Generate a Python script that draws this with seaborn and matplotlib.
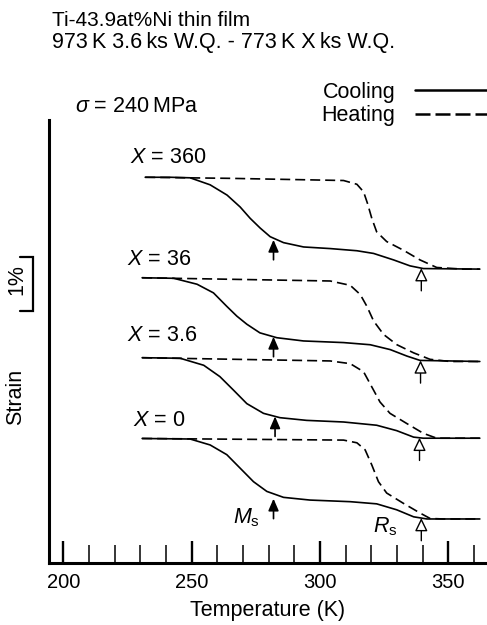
"""Strain-temperature curves of a Ti-43.9at%Ni thin film for several ageing times X."""
import matplotlib
matplotlib.use("Agg")
import matplotlib.pyplot as plt
from matplotlib.lines import Line2D
from matplotlib.patches import ArrowStyle
from matplotlib.ticker import MultipleLocator
import numpy as np
import pandas as pd
import seaborn as sns

# ageing times (ks) and vertical offset (%) of each curve's low end
AGE_LABELS = ["360", "36", "3.6", "0"]
OFFSETS = [5.44, 3.73, 2.31, 0.815]

# cooling curves: temperature (K) and strain (%) relative to the low end
COOL_T = [
    [231.9, 241.7, 249.4, 257.2, 263.8, 268.9, 272.8, 276.7, 280.6, 285.8, 293.6, 304.0, 314.4, 320.9, 328.7, 335.1, 340.3, 362.3],
    [230.7, 243.0, 252.1, 258.5, 263.7, 267.6, 271.5, 276.6, 283.2, 293.6, 309.2, 319.6, 327.4, 333.9, 339.0, 362.3],
    [230.7, 245.5, 254.7, 261.0, 266.3, 271.5, 278.0, 284.4, 294.8, 309.2, 322.1, 329.9, 336.5, 340.3, 362.3],
    [230.7, 249.4, 257.2, 263.7, 268.9, 274.1, 279.3, 285.8, 296.1, 311.8, 322.1, 329.9, 336.5, 341.7, 362.3],
]
COOL_S = [
    [1.70, 1.70, 1.69, 1.56, 1.37, 1.15, 0.94, 0.76, 0.60, 0.49, 0.41, 0.38, 0.34, 0.29, 0.17, 0.06, 0.01, 0.0],
    [1.55, 1.54, 1.43, 1.27, 1.02, 0.84, 0.69, 0.53, 0.44, 0.38, 0.35, 0.31, 0.22, 0.10, 0.02, 0.0],
    [1.49, 1.48, 1.35, 1.14, 0.89, 0.64, 0.46, 0.38, 0.33, 0.30, 0.24, 0.14, 0.02, 0.0, 0.0],
    [1.49, 1.48, 1.37, 1.19, 0.94, 0.69, 0.51, 0.40, 0.35, 0.32, 0.28, 0.17, 0.04, 0.0, 0.0],
]

# heating curves
HEAT_T = [
    [231.9, 265.0, 309.2, 314.4, 317.0, 318.5, 320.2, 322.1, 326.0, 332.5, 339.0, 345.5, 355.8, 362.3],
    [230.7, 304.0, 311.8, 315.7, 318.3, 320.9, 324.8, 330.0, 336.5, 342.9, 350.7, 362.3],
    [230.7, 304.0, 311.8, 317.0, 320.2, 323.4, 327.3, 333.9, 340.3, 345.5, 362.3],
    [230.7, 309.2, 314.4, 317.6, 320.2, 322.8, 326.0, 332.5, 339.0, 342.9, 348.0, 362.3],
]
HEAT_S = [
    [1.70, 1.68, 1.64, 1.57, 1.43, 1.22, 0.94, 0.69, 0.51, 0.35, 0.17, 0.03, 0.0, 0.0],
    [1.55, 1.49, 1.41, 1.24, 1.02, 0.75, 0.50, 0.31, 0.16, 0.04, 0.0, 0.0],
    [1.49, 1.43, 1.38, 1.23, 0.95, 0.67, 0.46, 0.27, 0.09, 0.0, 0.0],
    [1.49, 1.46, 1.41, 1.28, 1.00, 0.69, 0.48, 0.29, 0.11, 0.01, 0.0, 0.0],
]

# transformation start temperatures marked by arrows
MS_T = [281.9, 281.9, 282.5, 281.9]
MS_GAP = [0.03, 0.0, 0.0, 0.09]
RS_T = [339.5, 339.2, 338.8, 339.5]

rows = []
for label, off, ct, cs, ht, hs in zip(AGE_LABELS, OFFSETS, COOL_T, COOL_S, HEAT_T, HEAT_S):
    for i, (t, s) in enumerate(zip(ct, cs)):
        rows.append({"curve": label, "mode": "Cooling", "i": i, "T": t, "strain": s + off})
    for i, (t, s) in enumerate(zip(ht, hs)):
        rows.append({"curve": label, "mode": "Heating", "i": i, "T": t, "strain": s + off})
df = pd.DataFrame(rows)

sns.set_theme(style="white")
plt.rcParams["font.family"] = ["Liberation Sans", "DejaVu Sans"]
plt.rcParams["mathtext.fontset"] = "custom"
plt.rcParams["mathtext.rm"] = "Liberation Sans"
plt.rcParams["mathtext.it"] = "Liberation Sans:italic"
plt.rcParams["text.color"] = "black"
plt.rcParams["axes.labelcolor"] = "black"
plt.rcParams["xtick.color"] = "black"
FS = 15.5

fig = plt.figure(figsize=(4.87, 6.25), dpi=100, facecolor="white")
ax = fig.add_axes([0.1006, 0.0992, 0.8994, 0.7088])

sns.lineplot(
    data=df, x="T", y="strain", units="curve", style="mode",
    estimator=None, sort=False, color="black", lw=1.2,
    dashes={"Cooling": "", "Heating": (6, 3)}, legend=False, ax=ax,
)

ax.set_xlim(194.4, 365.1)
ax.set_ylim(0, 8.2)
for sp in ["top", "right"]:
    ax.spines[sp].set_visible(False)
for sp in ["left", "bottom"]:
    ax.spines[sp].set_linewidth(2.2)
    ax.spines[sp].set_color("black")
ax.set_yticks([])
ax.set_xticks([200, 250, 300, 350])
ax.xaxis.set_minor_locator(MultipleLocator(10))
ax.tick_params(axis="x", which="both", bottom=True, direction="in", colors="black")
ax.tick_params(axis="x", which="major", length=15.8, width=1.7, pad=7, labelsize=14.5)
ax.tick_params(axis="x", which="minor", length=13, width=1.1)
ax.set_xlabel("Temperature (K)", fontsize=FS, labelpad=6)
ax.set_ylabel("")

# arrows at Ms (filled) and Rs (open)
ms_style = ArrowStyle("-|>", head_length=0.6, head_width=0.26)
rs_style = ArrowStyle("-|>", head_length=0.66, head_width=0.32)
for off, ct, cs, ms, gap, rs in zip(OFFSETS, COOL_T, COOL_S, MS_T, MS_GAP, RS_T):
    tip = np.interp(ms, ct, cs) + off - gap
    ax.annotate("", xy=(ms, tip), xytext=(ms, tip - 0.37),
                arrowprops=dict(arrowstyle=ms_style, fc="black", ec="black", lw=1.2,
                                mutation_scale=12, shrinkA=0, shrinkB=0))
    tip = np.interp(rs, ct, cs) + off
    ax.annotate("", xy=(rs, tip), xytext=(rs, tip - 0.42),
                arrowprops=dict(arrowstyle=rs_style, fc="white", ec="black", lw=1.0,
                                mutation_scale=12, shrinkA=0, shrinkB=0))

# curve labels
label_pos = [(226.0, 7.41), (224.8, 5.52), (224.8, 4.11), (227.2, 2.54)]
for lab, (tx, ty) in zip(AGE_LABELS, label_pos):
    ax.text(tx, ty, r"$X$ = " + lab, fontsize=FS, va="baseline", ha="left")
ax.text(266.1, 0.74, r"$M_\mathrm{s}$", fontsize=FS, va="baseline", ha="left")
ax.text(320.7, 0.56, r"$R_\mathrm{s}$", fontsize=FS, va="baseline", ha="left")
ax.text(204.6, 8.35, r"$\sigma$" + " = 240\u2009MPa", fontsize=FS, va="baseline", ha="left")

# 1 % scale bar
ax.plot([183.1, 188.2, 188.2, 183.1], [4.67, 4.67, 5.67, 5.67], color="black",
        lw=1.6, clip_on=False, solid_joinstyle="miter")
fig.text(17 / 487, 1 - 280 / 625, "1%", rotation=90, fontsize=FS, ha="center", va="center")
fig.text(16 / 487, 1 - 397 / 625, "Strain", rotation=90, fontsize=FS, ha="center", va="center")

# title lines
fig.text(52 / 487, 1 - 26 / 625, "Ti-43.9at%Ni thin film", fontsize=15, va="baseline")
fig.text(52 / 487, 1 - 48 / 625,
         "973\u2009K 3.6\u2009ks W.Q. - 773\u2009K X\u2009ks W.Q.", fontsize=FS, va="baseline")

handles = [Line2D([], [], color="black", lw=1.8),
           Line2D([], [], color="black", lw=1.8, dashes=(6, 2))]
ax.legend(handles, ["Cooling", "Heating"], loc="upper right",
          bbox_to_anchor=(1.0, 1 - 82 / 625), bbox_transform=fig.transFigure,
          frameon=False, markerfirst=False, handlelength=3.35, handletextpad=0.9,
          labelspacing=0.1, borderpad=0, borderaxespad=0, fontsize=FS)

fig.savefig("out.png", dpi=100, facecolor="white")
